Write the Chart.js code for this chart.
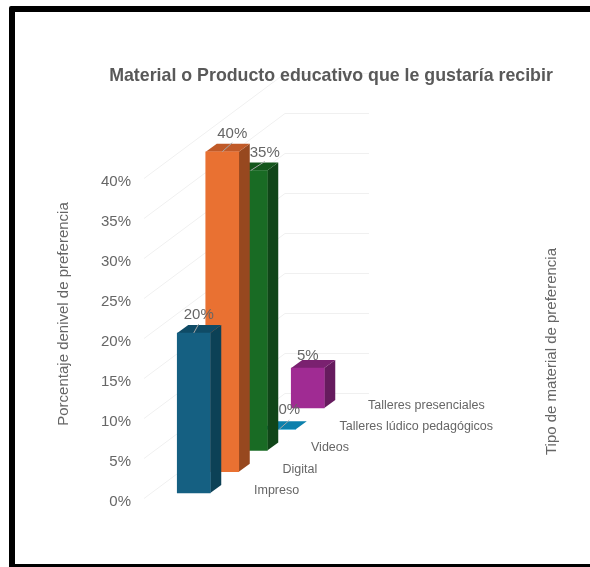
<!DOCTYPE html>
<html>
<head>
<meta charset="utf-8">
<style>
  html, body { margin: 0; padding: 0; background: #fff; overflow: hidden; }
  #frame { position: absolute; left: 9px; top: 6px; width: 600px; height: 552px; border: 6px solid #000; border-bottom-width: 5px; border-radius: 2px; }
  #chart { position: absolute; left: 0; top: 0; }
</style>
<script src="https://cdn.jsdelivr.net/npm/chart.js@4"></script>
</head>
<body>
<div id="frame"></div>
<canvas id="chart" width="590" height="567"></canvas>
<script>
const categories = ['Impreso', 'Digital', 'Videos', 'Talleres lúdico pedagógicos', 'Talleres presenciales'];
const values = [20, 40, 35, 0, 5];
const frontColors = ['#156082', '#E97132', '#196B24', '#0F9ED5', '#A02B93'];
const sideColors = ['#0c4156', '#97481f', '#104518', '#0a6a90', '#661b5e'];
const topColors = ['#0f4b66', '#c05a28', '#14561c', '#0c80ac', '#7a2170'];
const labelDx = [5, 10, 14, 10, 0];
const labelDy = [-18, -18, -18, -19, -12];

const textGrey = '#666666';
const depthX = 11, depthY = 8;   // bar depth
const stepY = 21.25;             // each category sits further back
const floorGap = -9;
const wallGap = -4;
const fontFamily = '"Liberation Sans", Arial, sans-serif';

function drawText(ctx, text, x, y, size, rotate) {
  ctx.save();
  ctx.translate(x, y);
  if (rotate) ctx.rotate(-Math.PI / 2);
  ctx.fillStyle = textGrey;
  ctx.font = size + 'px ' + fontFamily;
  ctx.textAlign = 'center';
  ctx.textBaseline = 'middle';
  ctx.fillText(text, 0, 0);
  ctx.restore();
}

function poly(ctx, color, pts) {
  ctx.fillStyle = color;
  ctx.beginPath();
  ctx.moveTo(pts[0][0], pts[0][1]);
  pts.slice(1).forEach(p => ctx.lineTo(p[0], p[1]));
  ctx.closePath();
  ctx.fill();
}

const bars3d = {
  id: 'bars3d',
  // side wall and back wall go under the title too
  beforeDraw(chart) {
    const ctx = chart.ctx;
    const yScale = chart.scales.y;
    const left = chart.chartArea.left;
    ctx.save();
    ctx.strokeStyle = '#f0f0f0';
    ctx.lineWidth = 1;
    yScale.ticks.forEach(t => {
      const y = Math.round(yScale.getPixelForValue(t.value) + wallGap) + 0.5;
      ctx.beginPath();
      ctx.moveTo(left - 35.5, y);
      ctx.lineTo(left + 105.5, y - 105);
      ctx.lineTo(left + 189.5, y - 105);
      ctx.stroke();
    });
    ctx.restore();
  },
  beforeDatasetsDraw(chart) {
    const ctx = chart.ctx;
    const bars = chart.getDatasetMeta(0).data;

    // back to front so nearer bars cover the others
    for (let i = bars.length - 1; i >= 0; i--) {
      const bar = bars[i];
      const shift = floorGap - i * stepY;
      const r = bar.x + bar.width / 2, l = bar.x - bar.width / 2;
      const top = bar.y + shift, bottom = bar.base + shift;
      ctx.save();
      poly(ctx, sideColors[i], [[r, top], [r + depthX, top - depthY], [r + depthX, bottom - depthY], [r, bottom]]);
      poly(ctx, topColors[i], [[l, top], [l + depthX, top - depthY], [r + depthX, top - depthY], [r, top]]);
      ctx.translate(0, shift);
      bar.draw(ctx);
      ctx.restore();
    }

    // value labels, with their leader lines, and category labels
    bars.forEach((bar, i) => {
      const shift = floorGap - i * stepY;
      const top = bar.y + shift;
      if (labelDx[i] > 0) {
        ctx.save();
        ctx.strokeStyle = '#a6a6a6';
        ctx.lineWidth = 1;
        ctx.beginPath();
        ctx.moveTo(bar.x, top);
        ctx.lineTo(bar.x + labelDx[i], top - 9);
        ctx.stroke();
        ctx.restore();
      }
      drawText(ctx, values[i] + '%', bar.x + labelDx[i], top + labelDy[i], 15);

      ctx.save();
      ctx.fillStyle = textGrey;
      ctx.font = '12.5px ' + fontFamily;
      ctx.textBaseline = 'middle';
      ctx.fillText(categories[i], bar.x + 60.25, bar.base + shift - 2.5);
      ctx.restore();
    });

    drawText(ctx, 'Porcentaje denivel de preferencia', 63.5, 314, 15, true);
    drawText(ctx, 'Tipo de material de preferencia', 551.5, 351.5, 15, true);
    return false;
  }
};

new Chart(document.getElementById('chart').getContext('2d'), {
  type: 'bar',
  data: {
    labels: categories,
    datasets: [{ data: values, backgroundColor: frontColors, barThickness: 33 }]
  },
  plugins: [bars3d],
  options: {
    responsive: false,
    animation: false,
    layout: { padding: { left: 72, right: 0, top: 0, bottom: 65 } },
    plugins: {
      legend: { display: false },
      tooltip: { enabled: false },
      title: {
        display: true,
        text: 'Material o Producto educativo que le gustaría recibir',
        color: '#595959',
        font: { family: fontFamily, size: 17.8, weight: 'bold' },
        padding: { top: 65.3, bottom: 95.3 }
      }
    },
    scales: {
      x: { display: false },
      y: {
        min: 0,
        max: 40,
        border: { display: false },
        grid: { display: false, drawTicks: false },
        ticks: {
          stepSize: 5,
          padding: 48.5,
          color: textGrey,
          font: { family: fontFamily, size: 15 },
          callback: v => v + '%'
        },
        afterFit(scale) { scale.width = 107.5; }
      },
      // empty axis, only reserves the room the category labels run into
      margin: {
        position: 'right',
        border: { display: false },
        grid: { display: false, drawTicks: false },
        ticks: { display: false },
        afterFit(scale) { scale.width = 268; }
      }
    }
  }
});
</script>
</body>
</html>
